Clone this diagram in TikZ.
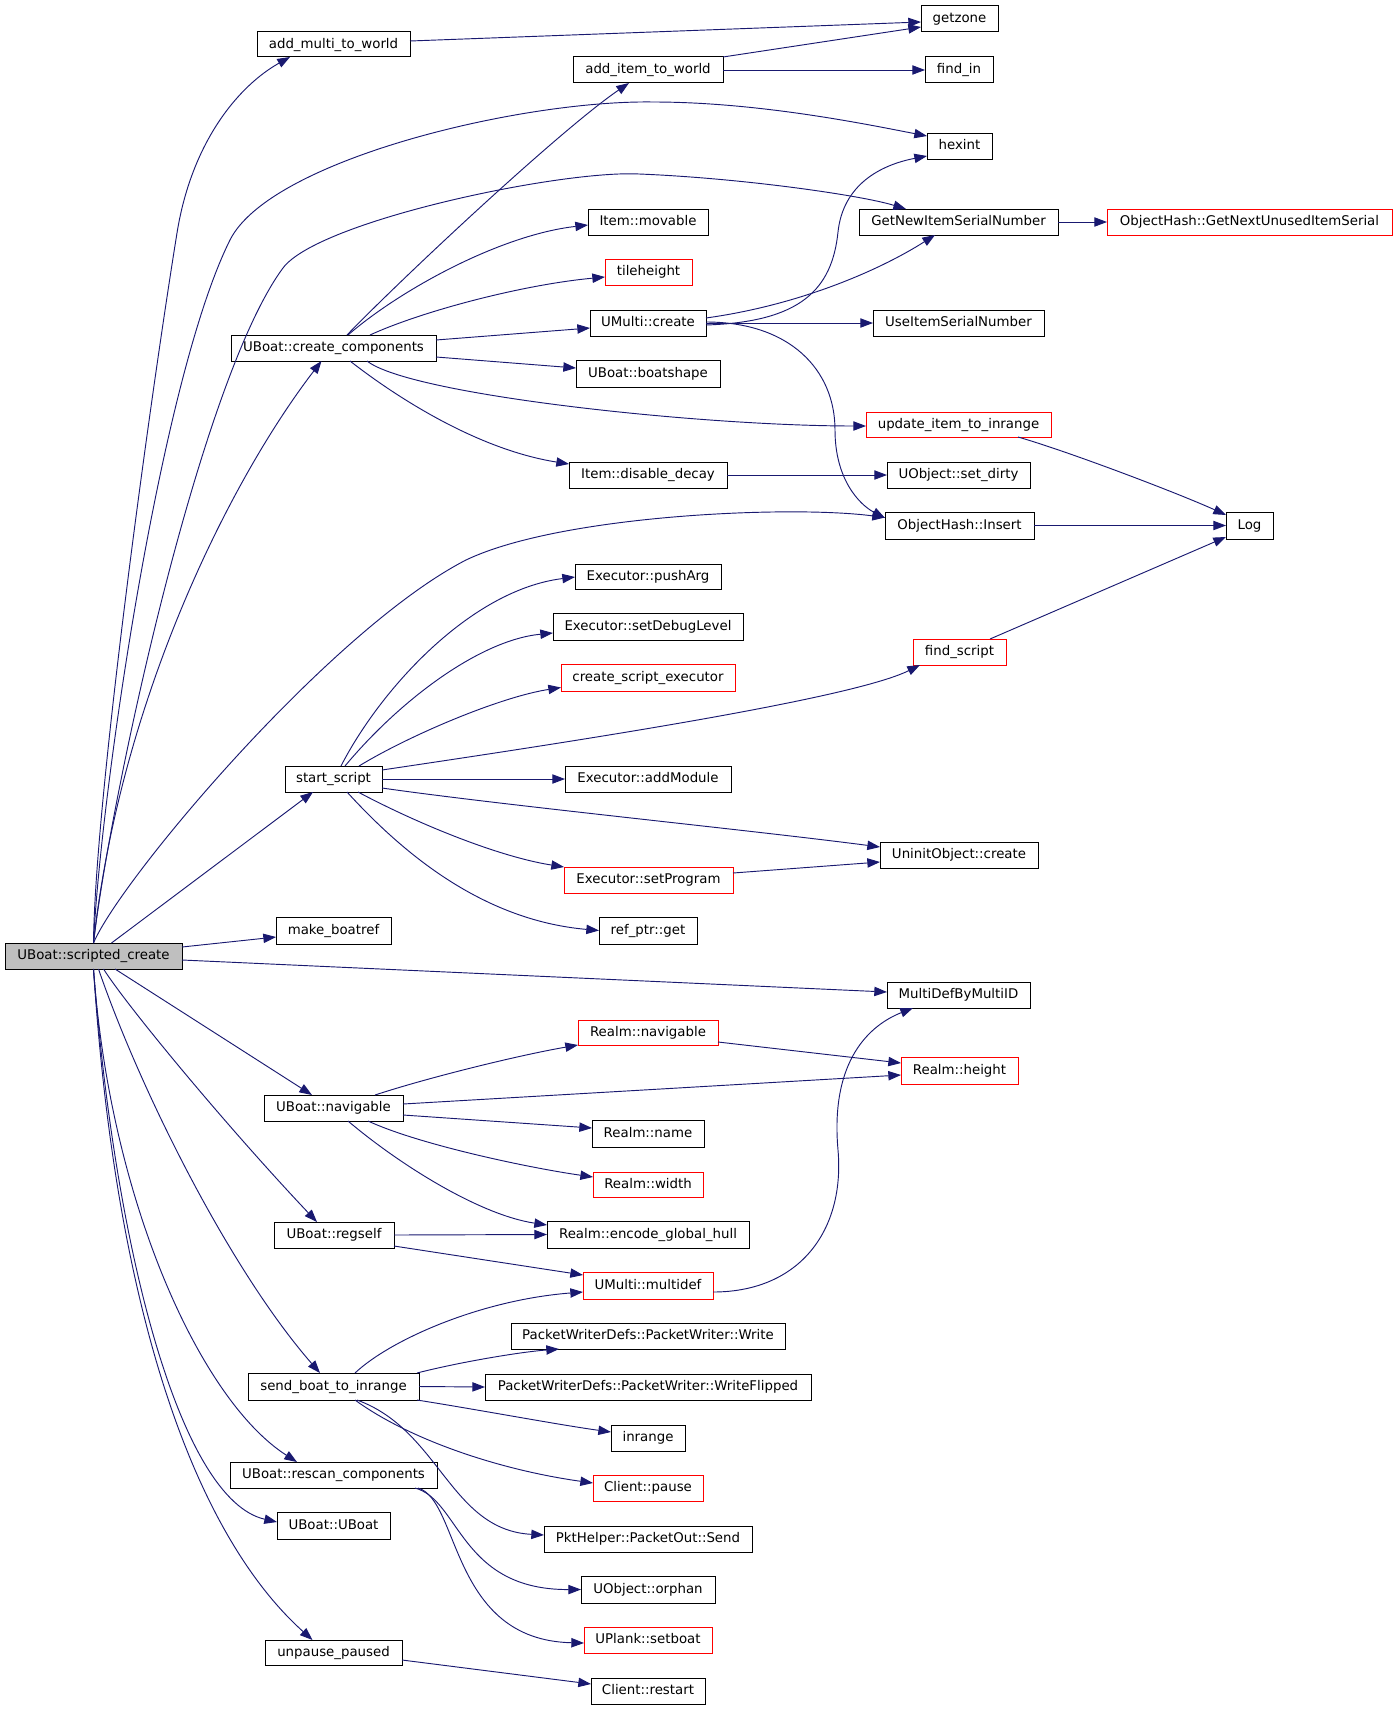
\documentclass[tikz,border=0pt]{standalone}
\usepackage{fontspec}
\setmainfont{DejaVu Sans}
\usetikzlibrary{arrows.meta,calc}
\definecolor{edgeblue}{HTML}{191970}
\definecolor{boxred}{HTML}{FF0000}
\definecolor{boxgray}{HTML}{BFBFBF}
\tikzset{
 box/.style={draw=black, line width=0.75pt, inner sep=0pt, outer sep=0pt, fill=white,
   font=\fontsize{10}{12}\selectfont, text height=7.5pt, text depth=2pt},
 redbox/.style={draw=boxred},
 rootbox/.style={fill=boxgray},
 ed/.style={draw=edgeblue, line width=0.7pt, -{Triangle[length=9.5pt,width=7pt]}},
}
\newcommand\bx[7][]{\node[box,#1,minimum width={(#5-#3)*0.75pt},minimum height={(#6-#4)*0.75pt}] (#2) at ({(#3+#5)/2},{(#4+#6)/2}) {#7};}
\begin{document}
\begin{tikzpicture}[x=0.75pt,y=-0.75pt]
\useasboundingbox (0,0) rectangle (1397,1709);
% nodes
\bx[rootbox]{S}{5}{943}{182}{969}{UBoat::scripted\_create}
\bx{amw}{257}{32}{410}{57}{add\_multi\_to\_world}
\bx{aiw}{573}{57}{723}{83}{add\_item\_to\_world}
\bx{gz}{921}{6}{998}{32}{getzone}
\bx{fi}{925}{57}{993}{83}{find\_in}
\bx{hx}{927}{133}{992}{159}{hexint}
\bx{gn}{859}{209}{1058}{235}{GetNewItemSerialNumber}
\bx[redbox]{ohg}{1107}{209}{1392}{235}{ObjectHash::GetNextUnusedItemSerial}
\bx{im}{588}{209}{708}{235}{Item::movable}
\bx[redbox]{th}{605}{259}{692}{285}{tileheight}
\bx{cc}{231}{335}{436}{361}{UBoat::create\_components}
\bx{umc}{590}{310}{706}{336}{UMulti::create}
\bx{uis}{873}{310}{1044}{336}{UseItemSerialNumber}
\bx{bs}{576}{360}{720}{387}{UBoat::boatshape}
\bx[redbox]{uiti}{866}{412}{1051}{437}{update\_item\_to\_inrange}
\bx{idd}{569}{462}{727}{488}{Item::disable\_decay}
\bx{sd}{887}{462}{1030}{488}{UObject::set\_dirty}
\bx{ohi}{885}{512}{1034}{539}{ObjectHash::Insert}
\bx{log}{1226}{512}{1273}{539}{Log}
\bx{epa}{575}{564}{721}{589}{Executor::pushArg}
\bx{edl}{553}{613}{743}{640}{Executor::setDebugLevel}
\bx[redbox]{cse}{561}{664}{735}{691}{create\_script\_executor}
\bx[redbox]{fs}{913}{639}{1006}{665}{find\_script}
\bx{ss}{285}{766}{382}{792}{start\_script}
\bx{eam}{565}{766}{731}{792}{Executor::addModule}
\bx{uoc}{880}{842}{1038}{868}{UninitObject::create}
\bx[redbox]{esp}{564}{867}{733}{893}{Executor::setProgram}
\bx{rpg}{599}{917}{697}{944}{ref\_ptr::get}
\bx{mb}{276}{917}{391}{944}{make\_boatref}
\bx{md}{887}{982}{1030}{1008}{MultiDefByMultiID}
\bx[redbox]{rn}{578}{1020}{718}{1045}{Realm::navigable}
\bx[redbox]{rh}{901}{1057}{1018}{1084}{Realm::height}
\bx{nav}{264}{1095}{403}{1121}{UBoat::navigable}
\bx{rnm}{592}{1120}{704}{1147}{Realm::name}
\bx[redbox]{rw}{593}{1172}{703}{1197}{Realm::width}
\bx{egh}{547}{1221}{749}{1248}{Realm::encode\_global\_hull}
\bx{rs}{274}{1222}{394}{1248}{UBoat::regself}
\bx[redbox]{umd}{583}{1272}{713}{1299}{UMulti::multidef}
\bx{pw}{511}{1323}{785}{1349}{PacketWriterDefs::PacketWriter::Write}
\bx{pwf}{485}{1374}{811}{1400}{PacketWriterDefs::PacketWriter::WriteFlipped}
\bx{sb}{248}{1373}{419}{1400}{send\_boat\_to\_inrange}
\bx{inr}{611}{1425}{685}{1451}{inrange}
\bx[redbox]{cp}{593}{1475}{703}{1501}{Client::pause}
\bx{rc}{230}{1462}{437}{1488}{UBoat::rescan\_components}
\bx{ub}{277}{1512}{390}{1539}{UBoat::UBoat}
\bx{pos}{544}{1526}{752}{1552}{PktHelper::PacketOut::Send}
\bx{uo}{581}{1576}{715}{1603}{UObject::orphan}
\bx[redbox]{ups}{584}{1627}{712}{1653}{UPlank::setboat}
\bx{up}{265}{1640}{402}{1665}{unpause\_paused}
\bx{cr}{591}{1678}{705}{1704}{Client::restart}
% edges from scripted_create
\draw[ed] (S.north) .. controls (95,800) and (150,400) .. (177,233) .. controls (192,140) and (240,85) .. ($(amw.south)+(-43.5,0)$);
\draw[ed] (S.north) .. controls (100,800) and (160,380) .. (230,240) .. controls (270,160) and (520,100) .. (653,102) .. controls (760,102) and (870,125) .. ($(hx.west)+(0,-10)$);
\draw[ed] (S.north) .. controls (110,800) and (200,380) .. (283,268) .. controls (318,221) and (560,170) .. (639,174) .. controls (740,178) and (860,195) .. ($(gn.north)+(-52.5,0)$);
\draw[ed] (S.north) .. controls (120,700) and (230,480) .. ($(cc.south)+(-12,0)$);
\draw[ed] (S.north) .. controls (120,880) and (330,630) .. (466,560) .. controls (560,515) and (790,505) .. ($(ohi.west)+(0,-8)$);
\draw[ed] ($(S.north)+(18,0)$) -- ($(ss.south)+(-20.5,0)$);
\draw[ed] ($(S.east)+(0,-9)$) -- ($(mb.west)+(0,6.5)$);
\draw[ed] ($(S.east)+(0,4)$) -- ($(md.west)+(0,-3)$);
\draw[ed] ($(S.south)+(21.5,0)$) -- ($(nav.north)+(-21.5,0)$);
\draw[ed] ($(S.south)+(10,0)$) .. controls (130,1010) and (230,1130) .. ($(rs.north)+(-17,0)$);
\draw[ed] ($(S.south)+(5,0)$) .. controls (140,1090) and (230,1270) .. ($(sb.north)+(-13.5,0)$);
\draw[ed] (S.south) .. controls (110,1200) and (200,1400) .. ($(rc.north)+(-36.5,0)$);
\draw[ed] (S.south) .. controls (115,1250) and (180,1500) .. ($(ub.west)+(0,-3.5)$);
\draw[ed] (S.south) .. controls (115,1300) and (190,1530) .. ($(up.north)+(-21,0)$);
% create_components
\draw[ed] ($(cc.north)+(13.5,0)$) .. controls (400,280) and (560,130) .. ($(aiw.south)+(-19,0)$);
\draw[ed] ($(cc.north)+(14.5,0)$) .. controls (400,290) and (500,235) .. ($(im.west)+(0,3)$);
\draw[ed] ($(cc.north)+(36.5,0)$) .. controls (420,312) and (520,285) .. ($(th.west)+(0,5)$);
\draw[ed] ($(cc.east)+(0,-8)$) -- ($(umc.west)+(0,5)$);
\draw[ed] ($(cc.east)+(0,9)$) -- ($(bs.west)+(0,-5.5)$);
\draw[ed] ($(cc.south)+(33.5,0)$) .. controls (410,395) and (700,426) .. ($(uiti.west)+(0,1.5)$);
\draw[ed] ($(cc.south)+(16.5,0)$) .. controls (400,400) and (480,450) .. ($(idd.west)+(0,-11)$);
% top right
\draw[ed] ($(amw.east)+(0,-3.5)$) -- ($(gz.west)+(0,3)$);
\draw[ed] (aiw.north east) -- ($(gz.west)+(0,8)$);
\draw[ed] (aiw.east) -- (fi.west);
\draw[ed] (gn.east) -- (ohg.west);
% UMulti::create
\draw[ed] ($(umc.east)+(0,2)$) .. controls (800,322) and (832,290) .. (838,232) .. controls (843,185) and (880,165) .. ($(hx.west)+(0,10)$);
\draw[ed] ($(umc.east)+(0,-5)$) .. controls (800,305) and (880,270) .. ($(gn.south)+(-23.5,0)$);
\draw[ed] (umc.east) -- (uis.west);
\draw[ed] ($(umc.east)+(0,-1)$) .. controls (790,322) and (835,370) .. (835,430) .. controls (835,480) and (860,505) .. ($(ohi.west)+(0,-7.5)$);
% to Log etc
\draw[ed] ($(uiti.south)+(59.5,0)$) .. controls (1070,452) and (1180,494) .. ($(log.west)+(0,-10.5)$);
\draw[ed] (idd.east) -- (sd.west);
\draw[ed] (ohi.east) -- (log.west);
\draw[ed] ($(fs.north)+(30.5,0)$) -- ($(log.west)+(0,11.5)$);
% start_script
\draw[ed] ($(ss.north)+(7.5,0)$) .. controls (380,690) and (470,590) .. ($(epa.west)+(0,0.5)$);
\draw[ed] ($(ss.north)+(11.5,0)$) .. controls (400,700) and (480,640) .. ($(edl.west)+(0,6.5)$);
\draw[ed] ($(ss.north)+(25.5,0)$) .. controls (410,735) and (500,697) .. ($(cse.west)+(0,10)$);
\draw[ed] ($(ss.east)+(0,-9)$) .. controls (550,745) and (850,700) .. ($(fs.south west)+(7,0)$);
\draw[ed] (ss.east) -- (eam.west);
\draw[ed] ($(ss.east)+(0,9)$) .. controls (500,805) and (750,830) .. ($(uoc.west)+(0,-8)$);
\draw[ed] ($(ss.south)+(24.5,0)$) .. controls (420,825) and (500,857) .. (esp.north west);
\draw[ed] ($(ss.south)+(13.5,0)$) .. controls (400,850) and (480,920) .. (rpg.west);
\draw[ed] ($(esp.east)+(0,-7)$) -- ($(uoc.west)+(0,7)$);
% navigable
\draw[ed] ($(nav.north)+(41.5,0)$) .. controls (430,1077) and (520,1055) .. (rn.south west);
\draw[ed] ($(nav.east)+(0,-4)$) -- ($(rh.west)+(0,4.5)$);
\draw[ed] ($(nav.east)+(0,7)$) -- ($(rnm.west)+(0,-5.5)$);
\draw[ed] ($(nav.south)+(34.5,0)$) .. controls (420,1145) and (530,1168) .. ($(rw.west)+(0,-7.5)$);
\draw[ed] ($(nav.south)+(14.5,0)$) .. controls (400,1165) and (480,1215) .. ($(egh.west)+(0,-9.5)$);
\draw[ed] ($(rn.east)+(0,9.5)$) -- ($(rh.west)+(0,-7.5)$);
% regself
\draw[ed] (rs.east) -- (egh.west);
\draw[ed] ($(rs.east)+(0,11)$) -- ($(umd.west)+(0,-10.5)$);
\draw[ed] ($(umd.east)+(0,6.5)$) .. controls (800,1292) and (845,1230) .. (838,1150) .. controls (830,1060) and (870,1025) .. ($(md.south)+(-45.5,0)$);
% send_boat_to_inrange
\draw[ed] ($(sb.north)+(21.5,0)$) .. controls (390,1340) and (480,1300) .. ($(umd.west)+(0,6.5)$);
\draw[ed] ($(sb.north east)+(-2,0)$) .. controls (460,1362) and (520,1352) .. ($(pw.south)+(-89,0)$);
\draw[ed] (sb.east) -- (pwf.west);
\draw[ed] ($(sb.south east)+(-2,0)$) .. controls (480,1410) and (560,1425) .. ($(inr.west)+(0,-6)$);
\draw[ed] ($(sb.south)+(21.5,0)$) .. controls (410,1440) and (500,1470) .. ($(cp.west)+(0,-5)$);
\draw[ed] ($(sb.south)+(23.5,0)$) .. controls (440,1430) and (450,1530) .. ($(pos.west)+(0,-4)$);
% rescan
\draw[ed] ($(rc.south)+(81.5,0)$) .. controls (460,1500) and (460,1590) .. (uo.west);
\draw[ed] ($(rc.south)+(84.5,0)$) .. controls (460,1500) and (450,1640) .. ($(ups.west)+(0,3)$);
% unpause
\draw[ed] ($(up.east)+(0,7.5)$) -- ($(cr.west)+(0,-7)$);
\end{tikzpicture}
\end{document}
